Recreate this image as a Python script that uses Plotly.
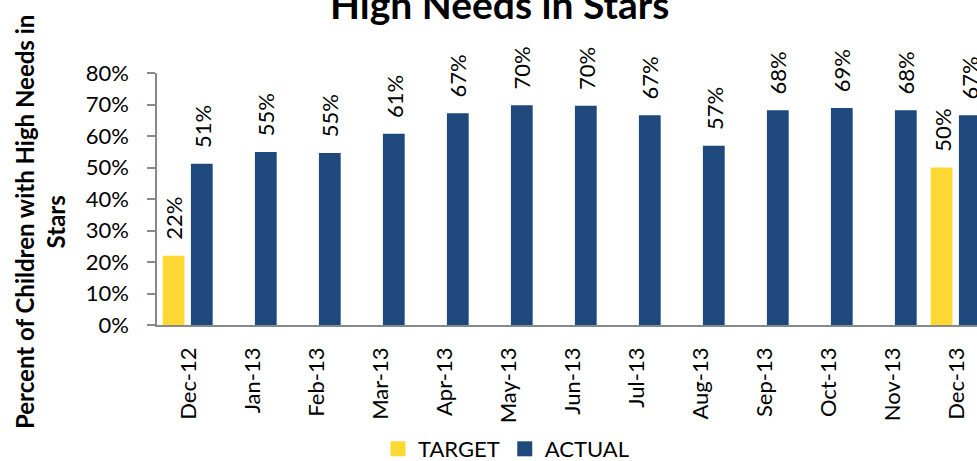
import plotly.graph_objects as go

# Monthly share of children with high needs in Stars
months = ["Dec-12", "Jan-13", "Feb-13", "Mar-13", "Apr-13", "May-13", "Jun-13",
          "Jul-13", "Aug-13", "Sep-13", "Oct-13", "Nov-13", "Dec-13"]
target = [0.22, None, None, None, None, None, None, None, None, None, None, None, 0.50]
actual = [0.512, 0.549, 0.546, 0.607, 0.672, 0.698, 0.696, 0.666, 0.569,
          0.682, 0.689, 0.682, 0.666]
y_ticks = [0, 0.1, 0.2, 0.3, 0.4, 0.5, 0.6, 0.7, 0.8]

YELLOW = "#FFD733"
BLUE = "#1F497D"
GREY = "#898989"
FONT = "Lato"

BAR_W = 0.34
T_OFF = -0.41
A_OFF = 0.03

fig = go.Figure()
fig.add_trace(go.Bar(name="TARGET", x=months, y=target, width=BAR_W, offset=T_OFF,
                     marker=dict(color=YELLOW, line=dict(width=0)),
                     legendgroup="t", showlegend=False))
fig.add_trace(go.Bar(name="ACTUAL", x=months, y=actual, width=BAR_W, offset=A_OFF,
                     marker=dict(color=BLUE, line=dict(width=0)),
                     legendgroup="a", showlegend=False))
# legend keys drawn as larger square swatches
for name, color, grp in (("TARGET", YELLOW, "t"), ("ACTUAL", BLUE, "a")):
    fig.add_trace(go.Scatter(name=name, x=[None], y=[None], mode="markers",
                             marker=dict(symbol="square", size=15, color=color),
                             legendgroup=grp, showlegend=True))

annotations = []
# value labels above each bar, rotated
for series, off in ((target, T_OFF), (actual, A_OFF)):
    for i, v in enumerate(series):
        if v is None:
            continue
        annotations.append(dict(
            x=i + off + BAR_W / 2, y=v, xref="x", yref="y",
            text=f"{v * 100:.0f}%", textangle=-90, showarrow=False,
            yanchor="bottom", xanchor="center", yshift=14,
            font=dict(family=FONT, size=22, color="#000000")))

# chart title
annotations.append(dict(
    text="<b>High Needs in Stars</b>", xref="paper", yref="paper",
    x=(499 - 157) / 820, y=1, xanchor="center", yanchor="bottom", yshift=44,
    showarrow=False, font=dict(family=FONT, size=39, color="#000000")))

# y-axis title
annotations.append(dict(
    text="<b>Percent of Children with High Needs in<br>Stars</b>",
    xref="paper", yref="paper", x=0, y=(325 - 222) / 252,
    xanchor="center", yanchor="middle", xshift=-117, textangle=-90,
    showarrow=False, align="center",
    font=dict(family=FONT, size=24, color="#000000")))

fig.update_layout(
    width=977, height=461,
    margin=dict(l=157, r=0, t=73, b=136, autoexpand=False),
    paper_bgcolor="white", plot_bgcolor="white",
    barmode="group",
    showlegend=True,
    legend=dict(orientation="h", x=(506 - 157) / 820, xanchor="center",
                y=(325 - 449) / 252, yanchor="middle",
                font=dict(family=FONT, size=22, color="#000000"),
                itemsizing="trace"),
    annotations=annotations,
    font=dict(family=FONT, color="#000000"),
)
fig.update_xaxes(
    type="category", range=[-0.5, 12.3125], automargin=False,
    showline=True, linecolor=GREY, linewidth=1.5,
    ticks="", tickangle=-90, ticklabelstandoff=12,
    tickfont=dict(family=FONT, size=22, color="#000000"),
    showgrid=False, zeroline=False,
)
fig.update_yaxes(
    range=[0, 0.8], tickvals=y_ticks, tickformat=".0%", automargin=False,
    showline=True, linecolor=GREY, linewidth=1.5,
    ticks="outside", ticklen=8, tickcolor=GREY, tickwidth=1.5,
    ticklabelstandoff=14,
    tickfont=dict(family=FONT, size=22, color="#000000"),
    showgrid=False, zeroline=False,
)

fig.write_html("out.html")
